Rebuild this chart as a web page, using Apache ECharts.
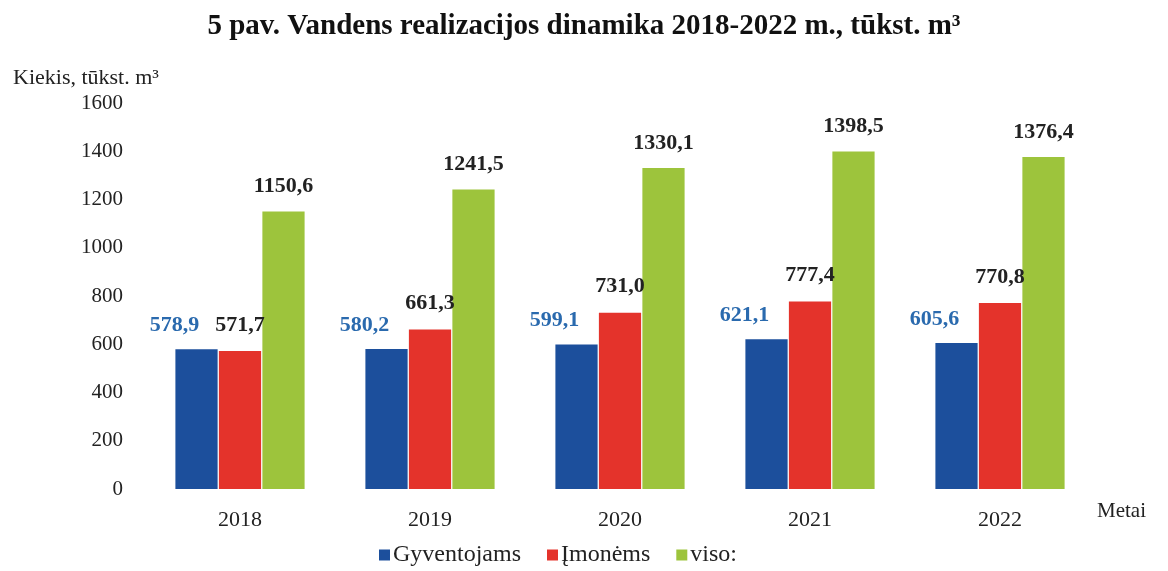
<!DOCTYPE html>
<html>
<head>
<meta charset="utf-8">
<script src="https://cdn.jsdelivr.net/npm/echarts@6/dist/echarts.min.js"></script>
<style>
  html, body { margin: 0; padding: 0; background: #fff; }
  #main { width: 1168px; height: 571px; }
</style>
</head>
<body>
<div id="main"></div>
<script>
var years = ['2018', '2019', '2020', '2021', '2022']
var gyventojams = [578.9, 580.2, 599.1, 621.1, 605.6]
var imonems = [571.7, 661.3, 731.0, 777.4, 770.8]
var viso = [1150.6, 1241.5, 1330.1, 1398.5, 1376.4]
var yTicks = [0, 200, 400, 600, 800, 1000, 1200, 1400, 1600]

var serif = '"Liberation Serif", "DejaVu Serif", serif'

function fmt(v) {
  return v.toFixed(1).replace('.', ',')
}

var myChart = echarts.init(document.getElementById('main'))
var option = {
  backgroundColor: '#fff',
  title: [{
    text: '5 pav. Vandens realizacijos dinamika 2018-2022 m., tūkst. m³',
    left: 'center',
    top: 7,
    textStyle: { fontFamily: serif, fontSize: 29, fontWeight: 'bold', color: '#111' }
  }, {
    text: 'Kiekis, tūkst. m³',
    left: 8,
    top: 62,
    textStyle: { fontFamily: serif, fontSize: 22, fontWeight: 'normal', color: '#222' }
  }],
  legend: {
    bottom: -1,
    left: 374,
    itemWidth: 11,
    itemHeight: 11,
    itemGap: 26,
    icon: 'rect',
    textStyle: { fontFamily: serif, fontSize: 24, color: '#222', padding: [0, 0, 0, -2] },
    data: ['Gyventojams', 'Įmonėms', 'viso:']
  },
  grid: {
    left: 145,
    right: 73,
    top: 103,
    bottom: 82
  },
  xAxis: {
    type: 'category',
    data: years,
    name: 'Metai',
    nameLocation: 'end',
    nameGap: 2,
    nameTextStyle: { fontFamily: serif, fontSize: 21, color: '#222', verticalAlign: 'top', padding: [12, 0, 0, 0] },
    axisLine: { show: false },
    axisTick: { show: false },
    axisLabel: { fontFamily: serif, fontSize: 22, color: '#222', margin: 20 }
  },
  yAxis: {
    type: 'value',
    min: yTicks[0],
    max: yTicks[yTicks.length - 1],
    interval: 200,
    axisLine: { show: false },
    axisTick: { show: false },
    splitLine: { show: false },
    axisLabel: {
      fontFamily: serif, fontSize: 21, color: '#222', margin: 22,
      formatter: function (v) { return String(v) }
    }
  },
  series: [{
    name: 'Gyventojams',
    type: 'bar',
    data: gyventojams,
    barGap: '3%',
    barCategoryGap: '32%',
    itemStyle: { color: '#1c4f9c' },
    label: {
      show: true,
      position: 'top',
      distance: 13,
      offset: [-22, 0],
      formatter: function (p) { return fmt(p.value) },
      fontFamily: serif, fontSize: 22, fontWeight: 'bold', color: '#2a6aae'
    }
  }, {
    name: 'Įmonėms',
    type: 'bar',
    data: imonems,
    itemStyle: { color: '#e4332b' },
    label: {
      show: true,
      position: 'top',
      distance: 15,
      formatter: function (p) { return fmt(p.value) },
      fontFamily: serif, fontSize: 22, fontWeight: 'bold', color: '#222'
    }
  }, {
    name: 'viso:',
    type: 'bar',
    data: viso,
    itemStyle: { color: '#9dc43c' },
    label: {
      show: true,
      position: 'top',
      distance: 14,
      formatter: function (p) { return fmt(p.value) },
      fontFamily: serif, fontSize: 22, fontWeight: 'bold', color: '#222'
    }
  }]
}
myChart.setOption(option)
</script>
</body>
</html>
